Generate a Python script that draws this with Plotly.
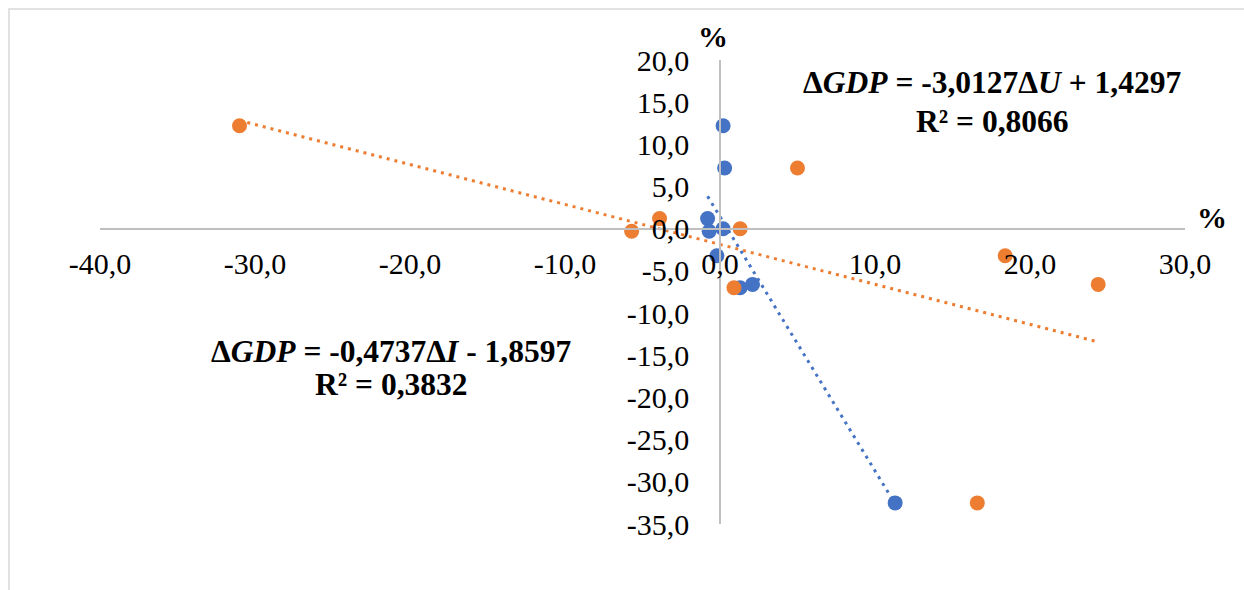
import plotly.graph_objects as go

# ---- data ----
gdp_change = [12.2, 7.2, 1.2, -0.3, 0.0, -3.2, -7.0, -6.6, -32.5]
unemp_change = [0.2, 0.3, -0.8, -0.7, 0.2, -0.2, 1.3, 2.1, 11.3]
invest_change = [-31.0, 5.0, -3.9, -5.7, 1.3, 18.4, 0.9, 24.4, 16.6]

trend_u = [-3.0127, 1.4297]   # slope, intercept
trend_i = [-0.4737, -1.8597]

x_ticks = [-40, -30, -20, -10, 0, 10, 20, 30]
x_tick_labels = ["-40,0", "-30,0", "-20,0", "-10,0", "0,0", "10,0", "20,0", "30,0"]
y_ticks = [20, 15, 10, 5, 0, -5, -10, -15, -20, -25, -30, -35]
y_tick_labels = ["20,0", "15,0", "10,0", "5,0", "0,0", "-5,0", "-10,0", "-15,0",
                 "-20,0", "-25,0", "-30,0", "-35,0"]

BLUE = "#4472C4"
ORANGE = "#ED7D31"
FONT = "Liberation Serif"

fig = go.Figure()

fig.add_trace(go.Scatter(x=unemp_change, y=gdp_change, mode="markers",
                         marker=dict(color=BLUE, size=15), showlegend=False))
fig.add_trace(go.Scatter(x=invest_change, y=gdp_change, mode="markers",
                         marker=dict(color=ORANGE, size=15), showlegend=False))

def trend(xs, coef):
    lo, hi = min(xs), max(xs)
    return [lo, hi], [coef[0] * lo + coef[1], coef[0] * hi + coef[1]]

tx, ty = trend(invest_change, trend_i)
fig.add_trace(go.Scatter(x=tx, y=ty, mode="lines",
                         line=dict(color=ORANGE, width=3, dash="3px,5px"), showlegend=False))
tx, ty = trend(unemp_change, trend_u)
fig.add_trace(go.Scatter(x=tx, y=ty, mode="lines",
                         line=dict(color=BLUE, width=3, dash="3px,5px"), showlegend=False))

axis_common = dict(showgrid=False, zeroline=False, showline=True, linecolor="#BFBFBF",
                   linewidth=1.5, ticks="", anchor="free",
                   tickfont=dict(family=FONT, size=30, color="black"))

fig.update_layout(
    width=1244, height=590,
    margin=dict(l=100, r=59, t=60, b=66),
    paper_bgcolor="white", plot_bgcolor="white",
    xaxis=dict(range=[-40, 30], tickvals=x_ticks, ticktext=x_tick_labels,
               position=35 / 55, ticklabelstandoff=9, **axis_common),
    yaxis=dict(range=[-35, 20], tickvals=y_ticks, ticktext=y_tick_labels,
               position=40 / 70, ticklabelstandoff=24, **axis_common),
    font=dict(family=FONT, color="black"),
)

fig.add_shape(type="rect", xref="paper", yref="paper",
              x0=-0.0839, x1=1.2, y0=-0.3, y1=1.1099,
              line=dict(color="#D9D9D9", width=1.5), fillcolor="rgba(0,0,0,0)", layer="below")

ann_font = dict(family=FONT, size=31.5, color="black")
anns = [
    (17.55, 17.3, "<b>Δ<i>GDP</i> = -3,0127Δ<i>U</i> + 1,4297</b>"),
    (17.55, 12.7, "<b>R² = 0,8066</b>"),
    (-21.2, -14.6, "<b>Δ<i>GDP</i> = -0,4737Δ<i>I</i> - 1,8597</b>"),
    (-21.2, -18.5, "<b>R² = 0,3832</b>"),
]
for x, y, t in anns:
    fig.add_annotation(x=x, y=y, xref="x", yref="y", text=t, showarrow=False,
                       font=ann_font, xanchor="center", yanchor="middle")

# axis unit labels ("%"), positioned in paper coordinates
for px, py in [((713 - 100) / 1085, (524 - 36) / 464), ((1212 - 100) / 1085, (524 - 217) / 464)]:
    fig.add_annotation(x=px, y=py, xref="paper", yref="paper", text="<b>%</b>",
                       showarrow=False, font=dict(family=FONT, size=30, color="black"),
                       xanchor="center", yanchor="middle")

fig.write_html("out.html", post_script="document.body.style.margin='0';",
               config={"displayModeBar": False})
